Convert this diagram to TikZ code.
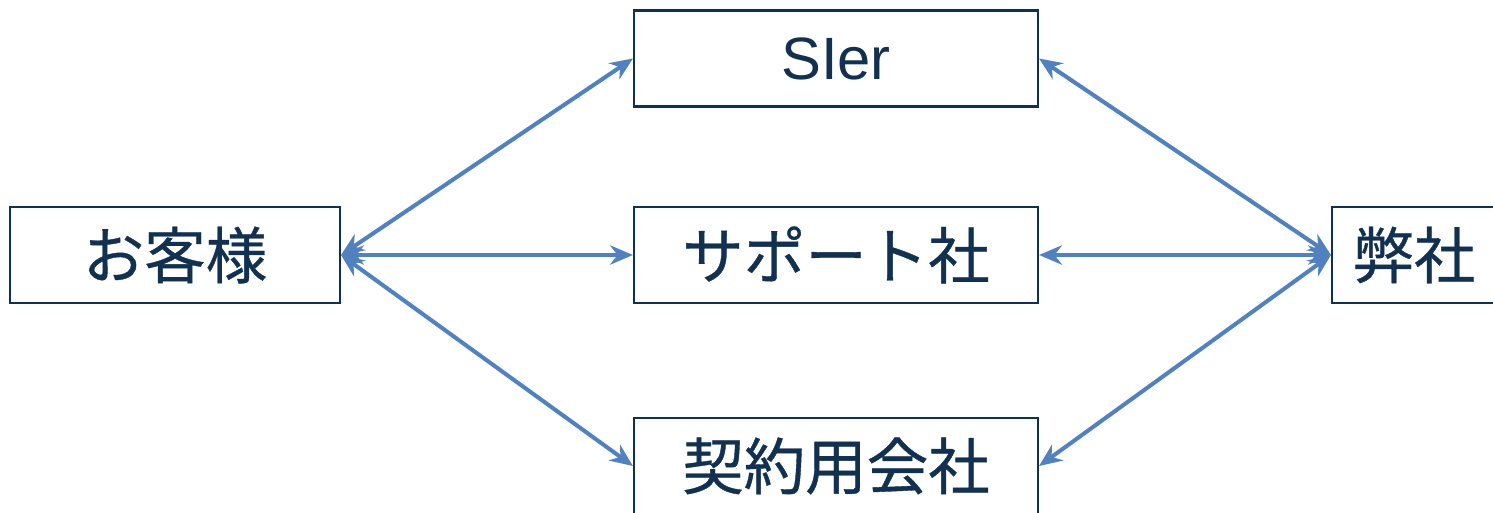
\documentclass[tikz,border=0pt]{standalone}
\usepackage{fontspec}
\setmainfont{Liberation Sans}
\newfontfamily\jpfont[FakeBold=0.6]{Noto Sans CJK JP}
\usetikzlibrary{arrows.meta,positioning}
\definecolor{navy}{HTML}{12304F}
\definecolor{linkblue}{HTML}{5181BE}
\tikzset{
  party/.style={draw=navy, line width=1.2pt, text=navy, minimum height=96*0.02cm,
    font=\jpfont\fontsize{35}{40}\selectfont, inner sep=0pt},
  link/.style={linkblue, line width=2.3pt, {Stealth[length=13pt,width=11pt]}-{Stealth[length=13pt,width=11pt]}}
}
\begin{document}
\begin{tikzpicture}[x=0.02cm,y=-0.02cm]
\useasboundingbox (0,0) rectangle (1493,513);
\clip (0,0) rectangle (1493,513);
% parties
\node[party, minimum width=330*0.02cm] (kyaku) at (175,255) {お客様};
\node[party, minimum width=404*0.02cm, font=\fontsize{34}{40}\selectfont] (sier) at (836,58.5) {SIer};
\node[party, minimum width=404*0.02cm] (support) at (836,255) {サポート社};
\node[party, minimum width=404*0.02cm] (keiyaku) at (836,466) {契約用会社};
\node[party, minimum width=164*0.02cm] (heisha) at (1414,255) {弊社};
% links
\draw[link] (kyaku.east) -- (sier.west);
\draw[link] (kyaku.east) -- (support.west);
\draw[link] (kyaku.east) -- (keiyaku.west);
\draw[link] (heisha.west) -- (sier.east);
\draw[link] (heisha.west) -- (support.east);
\draw[link] (heisha.west) -- (keiyaku.east);
\end{tikzpicture}
\end{document}
